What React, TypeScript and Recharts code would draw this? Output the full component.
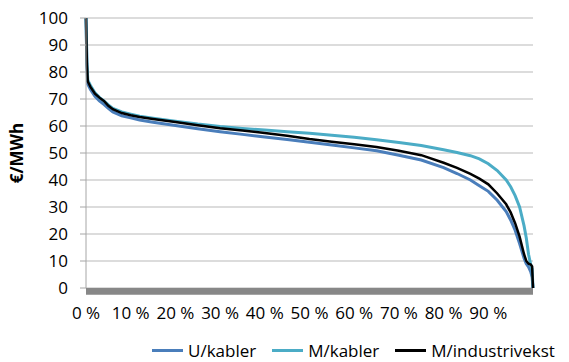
import React from "react";
import { LineChart, Line, XAxis, YAxis, CartesianGrid, Legend, ReferenceArea } from "recharts";

const percentiles = [0, 0.2, 0.4, 1, 2, 3, 4, 5, 6, 8, 10, 12, 15, 20, 25, 30, 35, 40, 45, 50, 55, 60, 65, 70, 75, 80, 83, 86, 88, 90, 92, 94, 95, 96, 97, 98, 98.5, 99, 99.5, 99.8, 100];

const uKabler = [100, 82, 75.5, 73.5, 71, 69.3, 68, 66.5, 65.2, 63.8, 63, 62.2, 61.4, 60.2, 59, 57.9, 56.9, 55.9, 55, 54, 53, 51.9, 50.8, 49.2, 47.4, 44.6, 42.4, 40, 37.9, 35.8, 32.5, 28.3, 25.2, 21.4, 16.5, 11, 9, 7.8, 6, 4, 0];

const mKabler = [100, 84, 77, 75, 72.3, 70.6, 69.3, 67.8, 66.5, 65.2, 64.4, 63.6, 62.9, 61.8, 60.7, 59.8, 59.1, 58.5, 57.9, 57.3, 56.6, 55.8, 54.9, 53.9, 52.8, 51.2, 50.2, 49, 47.8, 46, 43.5, 40, 37.5, 34.2, 30, 23, 18.5, 12.5, 8.5, 7, 0];

const mIndustri = [100, 83, 76.5, 74.5, 72, 70.5, 69.3, 67.5, 66.2, 64.8, 64, 63.3, 62.6, 61.5, 60.3, 59.2, 58.3, 57.4, 56.4, 55.2, 54.2, 53.2, 52.2, 50.8, 49.2, 46.4, 44.5, 42.3, 40.5, 38.4, 35, 31, 28, 24, 19, 12.5, 10, 9, 8.7, 8, 0];

const xTicks = [0, 10, 20, 30, 40, 50, 60, 70, 80, 90];
const yTicks = [0, 10, 20, 30, 40, 50, 60, 70, 80, 90, 100];

const seriesNames = ["U/kabler", "M/kabler", "M/industrivekst"];
const seriesColors = ["#4a7ebb", "#4bacc6", "#000000"];

const data = percentiles.map((p, i) => ({
  p,
  u: uKabler[i],
  m: mKabler[i],
  ind: mIndustri[i],
}));

const FONT = "'Open Sans', sans-serif";

const renderLegend = () => (
  <div style={{ display: "flex", alignItems: "center", fontFamily: FONT, fontSize: 17, lineHeight: "17px", height: 17, color: "#000", whiteSpace: "nowrap" }}>
    {seriesNames.map((n, i) => (
      <div key={n} style={{ display: "flex", alignItems: "center", marginRight: i < 2 ? 16 : 0 }}>
        <div style={{ width: 31, height: 3, background: seriesColors[i], marginRight: 5 }} />
        <span>{n}</span>
      </div>
    ))}
  </div>
);

export default function App() {
  return (
    <div style={{ position: "absolute", left: 0, top: 0, width: 569, height: 362, background: "#fff", overflow: "hidden" }}>
      <LineChart
        width={569}
        height={362}
        data={data}
        margin={{ top: 18, right: 36, left: 0, bottom: 0 }}
      >
        <CartesianGrid vertical={false} stroke="#dcdcdc" strokeWidth={2} />
        <XAxis
          dataKey="p"
          type="number"
          domain={[0, 100]}
          ticks={xTicks}
          tickFormatter={(v) => `${v} %`}
          axisLine={false}
          tickLine={false}
          tickSize={0}
          tickMargin={19}
          height={57}
          interval={0}
          tick={{ fill: "#000", fontSize: 17, fontFamily: FONT }}
        />
        <YAxis
          type="number"
          domain={[0, 100]}
          ticks={yTicks}
          width={86}
          interval={0}
          axisLine={{ stroke: "#a6a6a6" }}
          tickLine={{ stroke: "#a6a6a6" }}
          tickSize={6}
          tickMargin={12}
          tick={{ fill: "#000", fontSize: 17, fontFamily: FONT }}
          label={{
            value: "€/MWh",
            angle: -90,
            position: "insideLeft",
            dx: 12,
            style: { fontFamily: FONT, fontSize: 17, fontWeight: "bold", fill: "#000", textAnchor: "middle" },
          }}
        />
        <ReferenceArea x1={0} x2={100} y1={-2.5} y2={0} fill="#878787" fillOpacity={1} stroke="none" ifOverflow="visible" />
        <Line type="linear" dataKey="u" name={seriesNames[0]} stroke={seriesColors[0]} strokeWidth={3} dot={false} isAnimationActive={false} />
        <Line type="linear" dataKey="m" name={seriesNames[1]} stroke={seriesColors[1]} strokeWidth={3} dot={false} isAnimationActive={false} />
        <Line type="linear" dataKey="ind" name={seriesNames[2]} stroke={seriesColors[2]} strokeWidth={2.5} dot={false} isAnimationActive={false} />
        <Legend content={renderLegend} height={17} wrapperStyle={{ left: 152, top: 342, bottom: "auto", width: 420 }} />
      </LineChart>
    </div>
  );
}
